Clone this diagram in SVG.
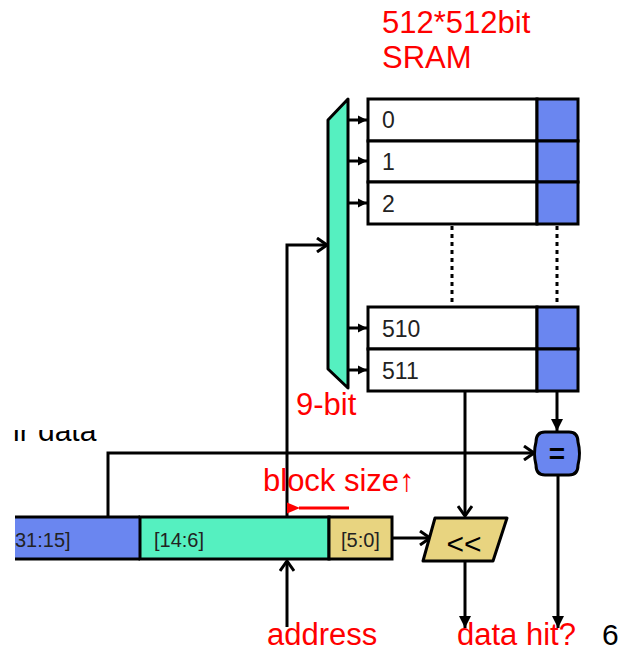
<svg xmlns="http://www.w3.org/2000/svg" width="629" height="652" viewBox="0 0 629 652">
<style>
.red{fill:#ff0000;font-family:"Liberation Sans",Arial,"DejaVu Sans",sans-serif;font-size:31px}
.blk{fill:#000;font-family:"Liberation Sans",Arial,sans-serif;font-size:30px}
.row{fill:#222;font-family:"Liberation Sans",Arial,sans-serif;font-size:23px}
.bit{fill:#222;font-family:"Liberation Sans",Arial,sans-serif;font-size:20px}
.ln{stroke:#000;stroke-width:3;fill:none}
.box{stroke:#000;stroke-width:3}
.cell{fill:#ffffff;stroke:#000;stroke-width:3}
.tag{fill:#6a86f0;stroke:#000;stroke-width:3}
</style>
<defs>
<marker id="chev" markerUnits="userSpaceOnUse" markerWidth="14" markerHeight="16" refX="12" refY="8" orient="auto">
<path d="M2,1 L12,8 L2,15" fill="none" stroke="#000" stroke-width="3"/>
</marker>
<marker id="tri" markerUnits="userSpaceOnUse" markerWidth="14" markerHeight="14" refX="12" refY="7" orient="auto">
<path d="M0,1 L12,7 L0,13 Z" fill="#000"/>
</marker>
<marker id="tris" markerUnits="userSpaceOnUse" markerWidth="10" markerHeight="10" refX="9" refY="5" orient="auto">
<path d="M0,0.5 L9,5 L0,9.5 Z" fill="#000"/>
</marker>
<marker id="trired" markerUnits="userSpaceOnUse" markerWidth="14" markerHeight="12" refX="1" refY="6" orient="auto-start-reverse">
<path d="M0,6 L13,0.5 L13,11.5 Z" fill="#ff0000"/>
</marker>
<clipPath id="cutTop"><rect x="0" y="430" width="120" height="20"/></clipPath>
</defs>

<g id="cut-text" clip-path="url(#cutTop)">
<text class="blk" x="13" y="441">ir data</text>
</g>

<g id="title">
<text class="red" x="382" y="33">512*512bit</text>
<text class="red" x="382" y="68">SRAM</text>
</g>

<g id="connectors">
<line class="ln" x1="452" y1="226" x2="452" y2="306" stroke-dasharray="4 4"/>
<line class="ln" x1="557" y1="226" x2="557" y2="306" stroke-dasharray="4 4"/>
<line class="ln" x1="348" y1="120" x2="367" y2="120" marker-end="url(#tris)"/>
<line class="ln" x1="348" y1="161" x2="367" y2="161" marker-end="url(#tris)"/>
<line class="ln" x1="348" y1="203" x2="367" y2="203" marker-end="url(#tris)"/>
<line class="ln" x1="348" y1="328" x2="367" y2="328" marker-end="url(#tris)"/>
<line class="ln" x1="348" y1="370" x2="367" y2="370" marker-end="url(#tris)"/>
<path class="ln" d="M287,517 V245 H327" marker-end="url(#chev)"/>
<path class="ln" d="M108,517 V453 H534" marker-end="url(#chev)"/>
<path class="ln" d="M557,391 V431" marker-end="url(#tri)"/>
<path class="ln" d="M465,391 V516" marker-end="url(#chev)"/>
<path class="ln" d="M392,538 H430" marker-end="url(#chev)"/>
<path class="ln" d="M465,561 V628" marker-end="url(#tri)"/>
<path class="ln" d="M558,475 V628" marker-end="url(#tri)"/>
<path class="ln" d="M287,627 V561" marker-end="url(#chev)"/>
<line x1="349" y1="508" x2="299" y2="508" stroke="#ff0000" stroke-width="3" marker-end="url(#trired)"/>
</g>

<g id="mux">
<polygon points="328,120 348,99 348,388 328,369" fill="#55f0c0" stroke="#000" stroke-width="3" stroke-linejoin="round"/>
<text class="red" x="296" y="415">9-bit</text>
</g>

<g id="sram">
<g id="row0"><rect class="cell" x="368" y="99" width="169" height="42"/><rect class="tag" x="537" y="99" width="41" height="42"/><text class="row" x="382" y="128">0</text></g>
<g id="row1"><rect class="cell" x="368" y="141" width="169" height="41"/><rect class="tag" x="537" y="141" width="41" height="41"/><text class="row" x="382" y="170">1</text></g>
<g id="row2"><rect class="cell" x="368" y="182" width="169" height="42"/><rect class="tag" x="537" y="182" width="41" height="42"/><text class="row" x="382" y="212">2</text></g>
<g id="row510"><rect class="cell" x="368" y="307" width="169" height="42"/><rect class="tag" x="537" y="307" width="41" height="42"/><text class="row" x="382" y="337">510</text></g>
<g id="row511"><rect class="cell" x="368" y="349" width="169" height="42"/><rect class="tag" x="537" y="349" width="41" height="42"/><text class="row" x="382" y="379">511</text></g>
</g>

<g id="comparator">
<path d="M545,432 H569 Q578,432 578,442 Q581,453.5 578,465 Q578,475 569,475 H545 Q536,475 536,465 Q533,453.5 536,442 Q536,432 545,432 Z" fill="#6a86f0" stroke="#000" stroke-width="3"/>
<text x="557" y="463" text-anchor="middle" font-family="Liberation Sans, Arial, sans-serif" font-size="28" font-weight="bold" fill="#000">=</text>
</g>

<g id="shifter">
<polygon points="435,518 507,518 493,561 423,561" fill="#e8d480" stroke="#000" stroke-width="3" stroke-linejoin="round"/>
<text x="464" y="554" text-anchor="middle" font-family="Liberation Sans, Arial, sans-serif" font-size="30" fill="#000">&lt;&lt;</text>
</g>

<g id="address">
<rect x="15" y="517" width="125" height="42" fill="#6a86f0"/>
<line class="ln" x1="15" y1="517" x2="140" y2="517"/>
<line class="ln" x1="15" y1="559" x2="140" y2="559"/>
<rect class="box" x="140" y="517" width="189" height="42" fill="#55f0c0"/>
<rect class="box" x="329" y="517" width="63" height="42" fill="#e8d480"/>
<text class="bit" x="15" y="547">31:15]</text>
<text class="bit" x="154" y="547">[14:6]</text>
<text class="bit" x="341" y="547">[5:0]</text>
</g>

<g id="labels">
<text class="red" x="263" y="491">block size↑</text>
<text class="red" x="267" y="645">address</text>
<text class="red" x="457" y="645">data hit?</text>
<text class="blk" x="602" y="645">6</text>
</g>
</svg>
